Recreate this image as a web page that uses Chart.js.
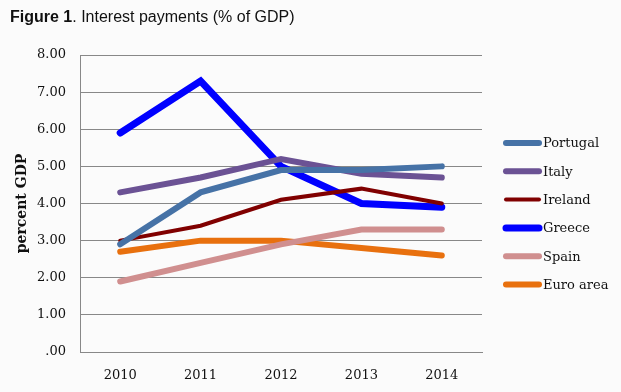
<!DOCTYPE html>
<html>
<head>
<meta charset="utf-8">
<script src="https://cdn.jsdelivr.net/npm/chart.js@4"></script>
<style>
html,body{margin:0;padding:0;background:#fbfbfb;}
#wrap{position:relative;width:621px;height:392px;}
#title{position:absolute;left:10px;top:8px;font-family:"Liberation Sans",Arial,sans-serif;font-size:16px;color:#111;white-space:nowrap;}
canvas{position:absolute;left:0;top:0;}
</style>
</head>
<body>
<div id="wrap">
<canvas id="c" width="621" height="392"></canvas>
<div id="title"><b>Figure 1</b>. Interest payments (% of GDP)</div>
</div>
<script>
const categories = ["2010","2011","2012","2013","2014"];
const portugal = [2.9, 4.3, 4.9, 4.9, 5.0];
const italy    = [4.3, 4.7, 5.2, 4.8, 4.7];
const ireland  = [3.0, 3.4, 4.1, 4.4, 4.0];
const greece   = [5.9, 7.3, 5.0, 4.0, 3.9];
const spain    = [1.9, 2.4, 2.9, 3.3, 3.3];
const euroArea = [2.7, 3.0, 3.0, 2.8, 2.6];
const seriesNames = ["Portugal","Italy","Ireland","Greece","Spain","Euro area"];
const yTicks = [0,1,2,3,4,5,6,7,8];

const colors = ["#4672a6","#6b5294","#800000","#0000ff","#d08f8f","#e8700e"];
const widths = [6,6,4,7,6,6];
const seriesData = [portugal, italy, ireland, greece, spain, euroArea];

const serif = "'DejaVu Serif', serif";

const legendPlugin = {
  id: 'customLegend',
  afterDraw(chart) {
    const ctx = chart.ctx;
    ctx.save();
    const x0 = 506, x1 = 539, yStart = 143, step = 28.3;
    chart.data.datasets.forEach((ds, i) => {
      const y = yStart + i * step;
      ctx.strokeStyle = ds.borderColor;
      ctx.lineWidth = ds.borderWidth;
      ctx.lineCap = 'round';
      ctx.beginPath();
      ctx.moveTo(x0, y);
      ctx.lineTo(x1, y);
      ctx.stroke();
      ctx.fillStyle = '#111';
      ctx.font = "13px " + serif;
      ctx.textBaseline = 'middle';
      ctx.textAlign = 'left';
      ctx.fillText(ds.label, x1 + 4, y + 1);
    });
    ctx.restore();
  }
};

new Chart(document.getElementById('c'), {
  type: 'line',
  data: {
    labels: categories,
    datasets: seriesData.map((d, i) => ({
      label: seriesNames[i],
      data: d,
      borderColor: colors[i],
      backgroundColor: colors[i],
      borderWidth: widths[i],
      borderCapStyle: 'round',
      borderJoinStyle: 'miter',
      pointRadius: 0,
      tension: 0,
      fill: false
    }))
  },
  options: {
    responsive: false,
    animation: false,
    layout: { padding: { top: 55, right: 139, bottom: 0, left: 0 } },
    plugins: { legend: { display: false }, tooltip: { enabled: false }, title: { display: false } },
    scales: {
      x: {
        offset: true,
        grid: { display: false, drawTicks: false },
        border: { display: true, color: '#888', width: 1 },
        ticks: { color: '#111', font: { family: serif, size: 13 }, padding: 16 },
        afterFit: s => { s.height = 40; }
      },
      y: {
        min: 0, max: 8,
        afterBuildTicks: s => { s.ticks = yTicks.map(v => ({ value: v })); },
        grid: { color: '#888', lineWidth: 1, drawTicks: false },
        border: { display: true, color: '#888', width: 1 },
        ticks: {
          color: '#111', font: { family: serif, size: 13 }, padding: 14,
          callback: v => v === 0 ? '.00' : Number(v).toFixed(2)
        },
        title: { display: true, text: 'percent GDP', color: '#111', font: { family: serif, size: 14, weight: 'bold' }, padding: { top: 14, bottom: 6 } },
        afterFit: s => { s.width = 80; }
      }
    }
  },
  plugins: [legendPlugin]
});
</script>
</body>
</html>
